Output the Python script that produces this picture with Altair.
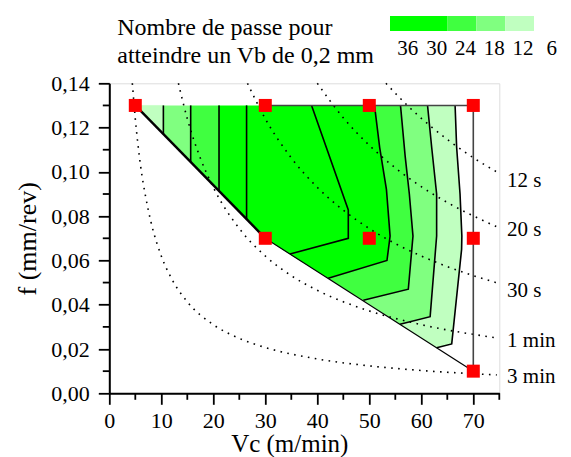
import altair as alt
import pandas as pd

FONT = "Liberation Serif"

# ---------------- data ----------------
x_ticks = [0, 10, 20, 30, 40, 50, 60, 70]
x_minor = [5, 15, 25, 35, 45, 55, 65, 75]
y_ticks = [0.0, 0.02, 0.04, 0.06, 0.08, 0.10, 0.12, 0.14]
y_minor = [0.01, 0.03, 0.05, 0.07, 0.09, 0.11, 0.13]

# measured test points (red squares)
pts_vc = [5, 30, 50, 70, 30, 50, 70, 70]
pts_f = [0.13, 0.13, 0.13, 0.13, 0.07, 0.07, 0.07, 0.01]

# contour lines (top edge -> lower edge)
l12_vc = [10.4, 10.4];   l12_f = [0.13, 0.117]
l18_vc = [15.65, 15.65]; l18_f = [0.13, 0.1044]
l24_vc = [21.1, 21.1];   l24_f = [0.13, 0.0914]
l30_vc = [26.4, 26.4];   l30_f = [0.13, 0.0786]
r30_vc = [38.9, 45.96, 45.96, 34.75]; r30_f = [0.13, 0.0828, 0.070, 0.0629]
r24_vc = [51.0, 52.0, 53.3, 54.0, 53.4, 42.1]; r24_f = [0.13, 0.111, 0.092, 0.071, 0.060, 0.052]
r18_vc = [56.0, 56.9, 57.7, 58.4, 57.5, 48.85]; r18_f = [0.13, 0.107, 0.090, 0.071, 0.047, 0.042]
r12_vc = [61.2, 62.0, 62.95, 62.95, 61.7, 55.9]; r12_f = [0.13, 0.111, 0.090, 0.071, 0.0346, 0.0312]
r6_vc = [66.5, 66.8, 67.45, 67.8, 67.75, 65.85, 62.95]; r6_f = [0.13, 0.111, 0.090, 0.071, 0.065, 0.0223, 0.0206]

# domain edges
edge_ll_vc = [5, 30];    edge_ll_f = [0.13, 0.07]
edge_lo_vc = [30, 70];   edge_lo_f = [0.07, 0.01]
edge_rt_vc = [70, 70];   edge_rt_f = [0.13, 0.01]
edge_tp_vc = [30, 70];   edge_tp_f = [0.13, 0.13]

# iso-time dotted curves
c12s_vc = [53.2, 57.5, 62, 66, 70, 74.5]
c12s_f = [0.14, 0.1296, 0.1202, 0.1129, 0.1064, 0.100]
c20s_vc = [40, 45, 50, 55, 60, 65, 74.5]
c20s_f = [0.14, 0.1244, 0.112, 0.1018, 0.0933, 0.0862, 0.0752]
c30s_vc = [26.57, 30, 35, 40, 45, 50, 55, 60, 65, 74.5]
c30s_f = [0.14, 0.124, 0.1063, 0.093, 0.0827, 0.0744, 0.0676, 0.062, 0.0572, 0.0499]
c1m_vc = [13.29, 15, 17.5, 20, 25, 30, 35, 40, 50, 60, 74.5]
c1m_f = [0.14, 0.124, 0.1063, 0.093, 0.0744, 0.062, 0.0531, 0.0465, 0.0372, 0.031, 0.025]
c3m_vc = [4.43, 5, 6, 7, 8, 10, 12, 15, 20, 25, 30, 40, 50, 60, 74.5]
c3m_f = [0.14, 0.124, 0.103, 0.0886, 0.0775, 0.062, 0.0517, 0.0413, 0.031, 0.0248,
         0.0207, 0.0155, 0.0124, 0.0103, 0.0083]

curve_labels = ["12 s", "20 s", "30 s", "1 min", "3 min"]
curve_label_f = [0.0958, 0.0737, 0.0464, 0.0237, 0.0074]

legend_labels = ["36", "30", "24", "18", "12", "6"]
legend_colors = ["#00FF00", "#40FF40", "#80FF80", "#C0FFC0"]
level_colors = {"6": "#C0FFC0", "12": "#80FF80", "18": "#40FF40", "24": "#00FF00", "30": "#00FF00"}

title_line1 = "Nombre de passe pour"
title_line2 = "atteindre un Vb de 0,2 mm"

# ---------------- tables ----------------
def pts(vx, vy):
    return list(zip(vx, vy))

L12, L18, L24, L30 = pts(l12_vc, l12_f), pts(l18_vc, l18_f), pts(l24_vc, l24_f), pts(l30_vc, l30_f)
R30, R24, R18, R12, R6 = (pts(r30_vc, r30_f), pts(r24_vc, r24_f), pts(r18_vc, r18_f),
                          pts(r12_vc, r12_f), pts(r6_vc, r6_f))
corner_left = (edge_ll_vc[0], edge_ll_f[0])
corner_mid = (edge_ll_vc[1], edge_ll_f[1])

bands = [
    ("6", [corner_left] + L12),
    ("12", L12 + L18[::-1]),
    ("18", L18 + L24[::-1]),
    ("24", L24 + L30[::-1]),
    ("30", L30 + [corner_mid] + R30[::-1]),
    ("24", R30 + R24[::-1]),
    ("18", R24 + R18[::-1]),
    ("12", R18 + R12[::-1]),
    ("6", R12 + R6[::-1]),
]
poly_rows = []
for b, (lvl, verts) in enumerate(bands):
    for i, (vx, vy) in enumerate(verts):
        poly_rows.append({"band": b, "i": i, "vc": vx, "f": vy, "col": level_colors[lvl]})
poly_df = pd.DataFrame(poly_rows)

def lines_df(groups):
    rows = []
    for g, (vx, vy) in enumerate(groups):
        for i, (a, c) in enumerate(zip(vx, vy)):
            rows.append({"line": g, "i": i, "vc": a, "f": c})
    return pd.DataFrame(rows)

contour_df = lines_df([(l12_vc, l12_f), (l18_vc, l18_f), (l24_vc, l24_f), (l30_vc, l30_f),
                       (r30_vc, r30_f), (r24_vc, r24_f), (r18_vc, r18_f), (r12_vc, r12_f),
                       (r6_vc, r6_f)])
edge_thick_df = lines_df([(edge_ll_vc, edge_ll_f)])
edge_thin_df = lines_df([(edge_lo_vc, edge_lo_f)])
edge_gray_df = lines_df([(edge_rt_vc, edge_rt_f), (edge_tp_vc, edge_tp_f)])
curves_df = lines_df([(c12s_vc, c12s_f), (c20s_vc, c20s_f), (c30s_vc, c30s_f),
                      (c1m_vc, c1m_f), (c3m_vc, c3m_f)])
points_df = pd.DataFrame({"vc": pts_vc, "f": pts_f})
labels_df = pd.DataFrame({"vc": [76.5] * len(curve_labels), "f": curve_label_f, "t": curve_labels})
xminor_df = pd.DataFrame({"vc": x_minor})
yminor_df = pd.DataFrame({"f": y_minor})

leg_rect_df = pd.DataFrame({"s0": [0, 2, 3, 4], "s1": [2, 3, 4, 5], "col": legend_colors})
leg_lab_df = pd.DataFrame({"s": [0.62 + k for k in range(len(legend_labels))], "t": legend_labels})

# ---------------- encodings ----------------
xs = alt.Scale(domain=[0, 75], nice=False, zero=False)
ys = alt.Scale(domain=[0, 0.14], nice=False, zero=False)
xaxis = alt.Axis(values=x_ticks, format="d", title="Vc (m/min)", tickSize=11, labelPadding=6,
                 grid=False, labelFont=FONT, labelFontSize=22, titleFont=FONT, titleFontSize=25,
                 titleFontWeight=400, labelColor="black", titleColor="black",
                 domainColor="black", domainWidth=2, tickColor="black", tickWidth=1.8,
                 titleX=180, titleY=58.5, titleAlign="center", titleBaseline="alphabetic",
                 labelFlush=False, labelOverlap=False)
yaxis = alt.Axis(values=y_ticks, format=".2f",
                 title="f (mm/rev)", tickSize=11, labelPadding=9, grid=False,
                 labelFont=FONT, labelFontSize=22, titleFont=FONT, titleFontSize=26,
                 titleFontWeight=400, labelColor="black", titleColor="black",
                 domainColor="black", domainWidth=2, tickColor="black", tickWidth=1.8,
                 titleX=-74, titleY=155, titleAngle=270, titleAlign="center",
                 titleBaseline="alphabetic", labelFlush=False, labelOverlap=False)

X = alt.X("vc:Q", scale=xs, axis=xaxis)
Y = alt.Y("f:Q", scale=ys, axis=yaxis)

fills = alt.Chart(poly_df).mark_line(strokeWidth=0.6).encode(
    x=X, y=Y, detail="band:N", order="i:Q",
    fill=alt.Fill("col:N", scale=None), stroke=alt.Stroke("col:N", scale=None))

curves = alt.Chart(curves_df).mark_line(color="black", strokeWidth=1.6,
                                        strokeDash=[1.6, 5.4], interpolate="monotone").encode(
    x=X, y=Y, detail="line:N", order="i:Q")

contours = alt.Chart(contour_df).mark_line(color="black", strokeWidth=1.6).encode(
    x=X, y=Y, detail="line:N", order="i:Q")
edge_thick = alt.Chart(edge_thick_df).mark_line(color="black", strokeWidth=2.4).encode(
    x=X, y=Y, detail="line:N", order="i:Q")
edge_thin = alt.Chart(edge_thin_df).mark_line(color="black", strokeWidth=1.2).encode(
    x=X, y=Y, detail="line:N", order="i:Q")
edge_gray = alt.Chart(edge_gray_df).mark_line(color="#444444", strokeWidth=1.6).encode(
    x=X, y=Y, detail="line:N", order="i:Q")

xminor = alt.Chart(xminor_df).mark_rule(color="black", strokeWidth=1.8).encode(
    x=X, y=alt.value(310), y2=alt.value(316.5))
yminor = alt.Chart(yminor_df).mark_rule(color="black", strokeWidth=1.8).encode(
    y=Y, x=alt.value(0), x2=alt.value(-6.5))

markers = alt.Chart(points_df).mark_square(size=169, color="#FF0000", opacity=1).encode(x=X, y=Y)

curve_text = alt.Chart(labels_df).mark_text(font=FONT, fontSize=21, align="left",
                                            baseline="middle").encode(
    x=X, y=Y, text="t:N")

title1 = alt.Chart(pd.DataFrame({"t": [title_line1]})).mark_text(
    font=FONT, fontSize=24, align="left", baseline="alphabetic").encode(
    x=alt.value(8), y=alt.value(-48.3), text="t:N")
title2 = alt.Chart(pd.DataFrame({"t": [title_line2]})).mark_text(
    font=FONT, fontSize=24, align="left", baseline="alphabetic").encode(
    x=alt.value(8), y=alt.value(-20.3), text="t:N")

main = alt.layer(fills, curves, contours, edge_thick, edge_thin, edge_gray,
                 xminor, yminor, markers, curve_text, title1, title2)

ls = alt.Scale(domain=[0, 6], range=[280.7, 453.5], nice=False, zero=False)
leg_rects = alt.Chart(leg_rect_df).mark_rect().encode(
    x=alt.X("s0:Q", scale=ls, axis=None), x2="s1:Q",
    y=alt.value(-67.3), y2=alt.value(-52.3),
    color=alt.Color("col:N", scale=None))
leg_text = alt.Chart(leg_lab_df).mark_text(font=FONT, fontSize=21, align="center",
                                           baseline="alphabetic").encode(
    x=alt.X("s:Q", scale=ls, axis=None), y=alt.value(-28.5), text="t:N")
legend = alt.layer(leg_rects, leg_text)

chart = alt.layer(main, legend).resolve_scale(x="independent").properties(
    width=390, height=310,
    padding={"left": 101.3, "top": 75.3, "right": 61, "bottom": 65},
    autosize=alt.AutoSizeParams(type="none"),
    background="white",
).configure_view(stroke=None).configure(
    font=FONT,
    locale={"number": {"decimal": ",", "thousands": "\u00a0", "grouping": [3],
                       "currency": ["", "\u00a0€"]}})

chart.save("out.html", embed_options={"renderer": "svg", "actions": False})
